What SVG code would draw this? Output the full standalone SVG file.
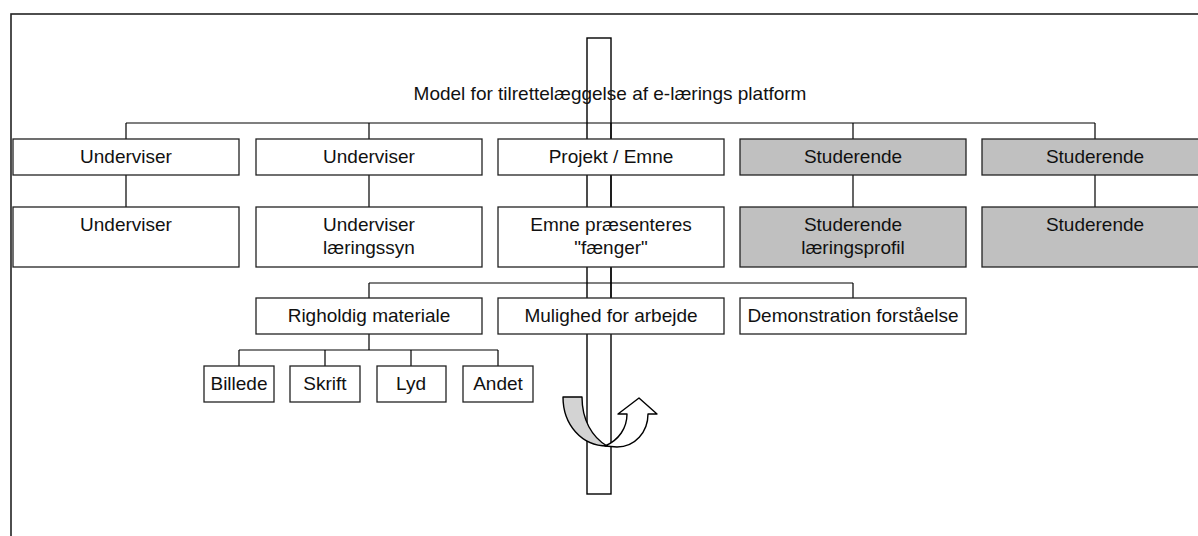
<svg xmlns="http://www.w3.org/2000/svg" width="1198" height="536" viewBox="0 0 1198 536">
<style>
.box{fill:#fff;stroke:#222;stroke-width:1.3}
.grey{fill:#c0c0c0;stroke:#222;stroke-width:1.3}
.lbl{font-family:"Liberation Sans",Arial,sans-serif;font-size:19px;fill:#111;text-anchor:middle}
.con{fill:none;stroke:#000;stroke-width:1.2}
</style>
<rect x="0" y="0" width="1198" height="536" fill="#fff"/>
<rect id="frame" x="11" y="14" width="1210" height="560" fill="none" stroke="#222" stroke-width="1.6"/>
<rect id="bar" x="587" y="38" width="24" height="456" fill="none" stroke="#000" stroke-width="1.4"/>
<text id="title" class="lbl" x="610" y="100">Model for tilrettelæggelse af e-lærings platform</text>
<g id="connectors" class="con">
<path d="M126,123H1095M126,123V139M369,123V139M611,123V139M853,123V139M1095,123V139"/>
<path d="M126,175V207M369,175V207M611,175V207M853,175V207M1095,175V207"/>
<path d="M611,267V283M369,283H853M369,283V298M611,283V298M853,283V298"/>
<path d="M369,334V350M239,350H498M239,350V366M325,350V366M411,350V366M498,350V366"/>
</g>
<g id="n1"><rect class="box" x="13" y="139" width="226" height="36"/><text class="lbl" x="126" y="163">Underviser</text></g>
<g id="n2"><rect class="box" x="256" y="139" width="226" height="36"/><text class="lbl" x="369" y="163">Underviser</text></g>
<g id="n3"><rect class="box" x="498" y="139" width="226" height="36"/><text class="lbl" x="611" y="163">Projekt / Emne</text></g>
<g id="n4"><rect class="grey" x="740" y="139" width="226" height="36"/><text class="lbl" x="853" y="163">Studerende</text></g>
<g id="n5"><rect class="grey" x="982" y="139" width="226" height="36"/><text class="lbl" x="1095" y="163">Studerende</text></g>
<g id="n6"><rect class="box" x="13" y="207" width="226" height="60"/><text class="lbl" x="126" y="231">Underviser</text></g>
<g id="n7"><rect class="box" x="256" y="207" width="226" height="60"/><text class="lbl" x="369" y="231">Underviser</text><text class="lbl" x="369" y="254">læringssyn</text></g>
<g id="n8"><rect class="box" x="498" y="207" width="226" height="60"/><text class="lbl" x="611" y="231">Emne præsenteres</text><text class="lbl" x="611" y="254">"fænger"</text></g>
<g id="n9"><rect class="grey" x="740" y="207" width="226" height="60"/><text class="lbl" x="853" y="231">Studerende</text><text class="lbl" x="853" y="254">læringsprofil</text></g>
<g id="n10"><rect class="grey" x="982" y="207" width="226" height="60"/><text class="lbl" x="1095" y="231">Studerende</text></g>
<g id="n11"><rect class="box" x="256" y="298" width="226" height="36"/><text class="lbl" x="369" y="322">Righoldig materiale</text></g>
<g id="n12"><rect class="box" x="498" y="298" width="226" height="36"/><text class="lbl" x="611" y="322">Mulighed for arbejde</text></g>
<g id="n13"><rect class="box" x="740" y="298" width="226" height="36"/><text class="lbl" x="853" y="322">Demonstration forståelse</text></g>
<g id="n14"><rect class="box" x="204" y="366" width="70" height="36"/><text class="lbl" x="239" y="390">Billede</text></g>
<g id="n15"><rect class="box" x="290" y="366" width="70" height="36"/><text class="lbl" x="325" y="390">Skrift</text></g>
<g id="n16"><rect class="box" x="377" y="366" width="69" height="36"/><text class="lbl" x="411" y="390">Lyd</text></g>
<g id="n17"><rect class="box" x="463" y="366" width="70" height="36"/><text class="lbl" x="498" y="390">Andet</text></g>
<g id="uturn" stroke="#000" stroke-width="1.4" stroke-linejoin="round">
<path fill="#d3d3d3" d="M563,397 L582,397 C582,420 592,437 607,446 C582,446 563,425 563,397 Z"/>
<path fill="#fff" d="M605,446 L617,447 C635,447 648,432 648,414 L657,414 L639,398 L618,414 L627,414 C627,428 619,440 605,446 Z"/>
</g>
</svg>
